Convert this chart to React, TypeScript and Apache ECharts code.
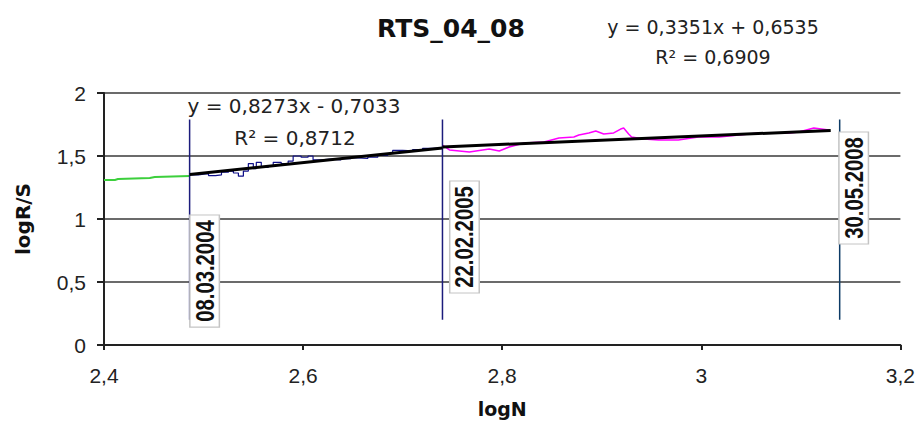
import React, { useEffect, useRef } from "react";
import * as echarts from "echarts";

const titleText = "RTS_04_08";
const xTicks = { min: 2.4, max: 3.2, interval: 0.2 };
const yTicks = { min: 0, max: 2, interval: 0.5 };

const greenX = [2.4, 2.411, 2.414, 2.446, 2.451, 2.486];
const greenY = [1.31, 1.31, 1.317, 1.325, 1.333, 1.341];

const blueX = [2.486, 2.495, 2.5, 2.505, 2.512, 2.518, 2.525, 2.53, 2.535, 2.54, 2.545, 2.55, 2.553, 2.558, 2.565, 2.57, 2.578, 2.585, 2.59, 2.598, 2.605, 2.61, 2.618, 2.628, 2.638, 2.648, 2.655, 2.665, 2.675, 2.685, 2.69, 2.7, 2.71, 2.72, 2.73, 2.74];
const blueY = [1.35, 1.355, 1.36, 1.345, 1.35, 1.372, 1.38, 1.365, 1.34, 1.38, 1.44, 1.4, 1.45, 1.41, 1.42, 1.45, 1.44, 1.46, 1.5, 1.49, 1.5, 1.47, 1.475, 1.47, 1.478, 1.485, 1.48, 1.49, 1.505, 1.52, 1.545, 1.54, 1.55, 1.56, 1.565, 1.57];

const magX = [2.74, 2.747, 2.767, 2.787, 2.797, 2.807, 2.822, 2.842, 2.857, 2.872, 2.877, 2.887, 2.894, 2.902, 2.912, 2.919, 2.922, 2.927, 2.93, 2.942, 2.957, 2.977, 2.997, 3.018, 3.038, 3.058, 3.088, 3.098, 3.113, 3.128];
const magY = [1.587, 1.548, 1.532, 1.556, 1.54, 1.571, 1.603, 1.611, 1.643, 1.651, 1.667, 1.683, 1.698, 1.675, 1.683, 1.714, 1.722, 1.675, 1.651, 1.635, 1.627, 1.627, 1.651, 1.651, 1.667, 1.683, 1.683, 1.69, 1.722, 1.706];

const trend1X = [2.486, 2.74];
const trend1Y = [1.353, 1.564];
const trend2X = [2.74, 3.13];
const trend2Y = [1.572, 1.702];

const dateX = [2.486, 2.74, 3.139];
const dateLineY = [0.2, 1.79];
const dateLabels = ["08.03.2004", "22.02.2005", "30.05.2008"];
const dateLabelY = [0.587, 0.857, 1.246];
const dateLabelDx = [15, 22, 14];
const dateLineColors = ["#1c1c7c", "#1c1c7c", "#0d3b66"];

const eq1 = ["y = 0,3351x + 0,6535", "R² = 0,6909"];
const eq2 = ["y = 0,8273x - 0,7033", "R² = 0,8712"];

const fmt = (v: number) => String(Number(v.toFixed(2))).replace(".", ",");
const zip = (xs: number[], ys: number[]) => xs.map((x, i) => [x, ys[i]]);

export default function App() {
  const ref = useRef<HTMLDivElement>(null);
  useEffect(() => {
    const chart = echarts.init(ref.current!, null, { renderer: "svg" });
    const tickFont = "'Liberation Sans', Arial, sans-serif";
    const eqStyle = (size: number) => ({
      fill: "#222",
      fontSize: size,
      fontFamily: "'DejaVu Sans', sans-serif",
      align: "center",
      verticalAlign: "middle",
    });
    chart.setOption({
      animation: false,
      backgroundColor: "#fff",
      grid: { left: 104, right: 16, top: 93, bottom: 78 },
      xAxis: {
        type: "value",
        ...xTicks,
        name: "logN",
        nameLocation: "middle",
        nameGap: 54,
        nameTextStyle: { fontFamily: "'DejaVu Sans', sans-serif", fontWeight: "bold", fontSize: 19, color: "#111" },
        axisLine: { lineStyle: { color: "#222", width: 2 } },
        axisTick: { show: true, length: 5, lineStyle: { color: "#222", width: 2 } },
        axisLabel: { formatter: fmt, fontSize: 21, fontFamily: tickFont, color: "#222", margin: 20 },
        splitLine: { show: false },
      },
      yAxis: {
        type: "value",
        ...yTicks,
        name: "logR/S",
        nameLocation: "middle",
        nameGap: 71,
        nameTextStyle: { fontFamily: "'DejaVu Sans', sans-serif", fontWeight: "bold", fontSize: 20, color: "#111" },
        axisLine: { show: true, lineStyle: { color: "#222", width: 2 } },
        axisTick: { show: true, length: 7, lineStyle: { color: "#222", width: 2 } },
        axisLabel: { formatter: fmt, fontSize: 21, fontFamily: tickFont, color: "#222", margin: 18 },
        splitLine: { show: true, lineStyle: { color: "#3a3a3a", width: 1.5 } },
      },
      graphic: [
        { type: "text", x: 451, y: 28, style: { text: titleText, fill: "#111", fontSize: 25, fontWeight: "bold", fontFamily: "'DejaVu Sans', sans-serif", align: "center", verticalAlign: "middle" } },
        { type: "text", x: 713, y: 27, style: { text: eq1[0], ...eqStyle(19) } },
        { type: "text", x: 713, y: 57, style: { text: eq1[1], ...eqStyle(19) } },
        { type: "text", x: 294, y: 106, style: { text: eq2[0], ...eqStyle(20) }, z: 100 },
        { type: "text", x: 295, y: 138, style: { text: eq2[1], ...eqStyle(20) }, z: 100 },
      ],
      series: [
        { type: "line", data: zip(greenX, greenY), symbol: "none", lineStyle: { color: "#3ccf3c", width: 2 } },
        { type: "line", data: zip(blueX, blueY), symbol: "none", step: "end", lineStyle: { color: "#10108a", width: 1.2 } },
        { type: "line", data: zip(magX, magY), symbol: "none", lineStyle: { color: "#ff00ff", width: 1.5 } },
        ...dateX.map((x, i) => ({
          type: "line",
          data: dateLineY.map((y) => [x, y]),
          symbol: "none",
          lineStyle: { color: dateLineColors[i], width: 1.5 },
        })),
        { type: "line", data: zip(trend1X, trend1Y), symbol: "none", z: 5, lineStyle: { color: "#000", width: 3 } },
        { type: "line", data: zip(trend2X, trend2Y), symbol: "none", z: 5, lineStyle: { color: "#000", width: 3 } },
        {
          type: "custom",
          z: 10,
          clip: false,
          data: dateX.map((x, i) => [x, dateLabelY[i]]),
          renderItem: (params: any, api: any) => {
            const i = params.dataIndex;
            const p = api.coord([api.value(0), api.value(1)]);
            return {
              type: "text",
              x: p[0] + dateLabelDx[i],
              y: p[1],
              rotation: Math.PI / 2,
              scaleX: 0.78,
              style: {
                text: dateLabels[i],
                fill: "#111",
                fontSize: 26,
                fontWeight: "bold",
                fontFamily: "'Liberation Sans', Arial, sans-serif",
                align: "center",
                verticalAlign: "middle",
                backgroundColor: "#fff",
                borderColor: "#c4c4c4",
                borderWidth: 1.5,
                padding: [1, 6],
              },
            };
          },
        },
      ],
    });
    return () => chart.dispose();
  }, []);
  return <div ref={ref} style={{ position: "absolute", left: 0, top: 0, width: 918, height: 423 }} />;
}
